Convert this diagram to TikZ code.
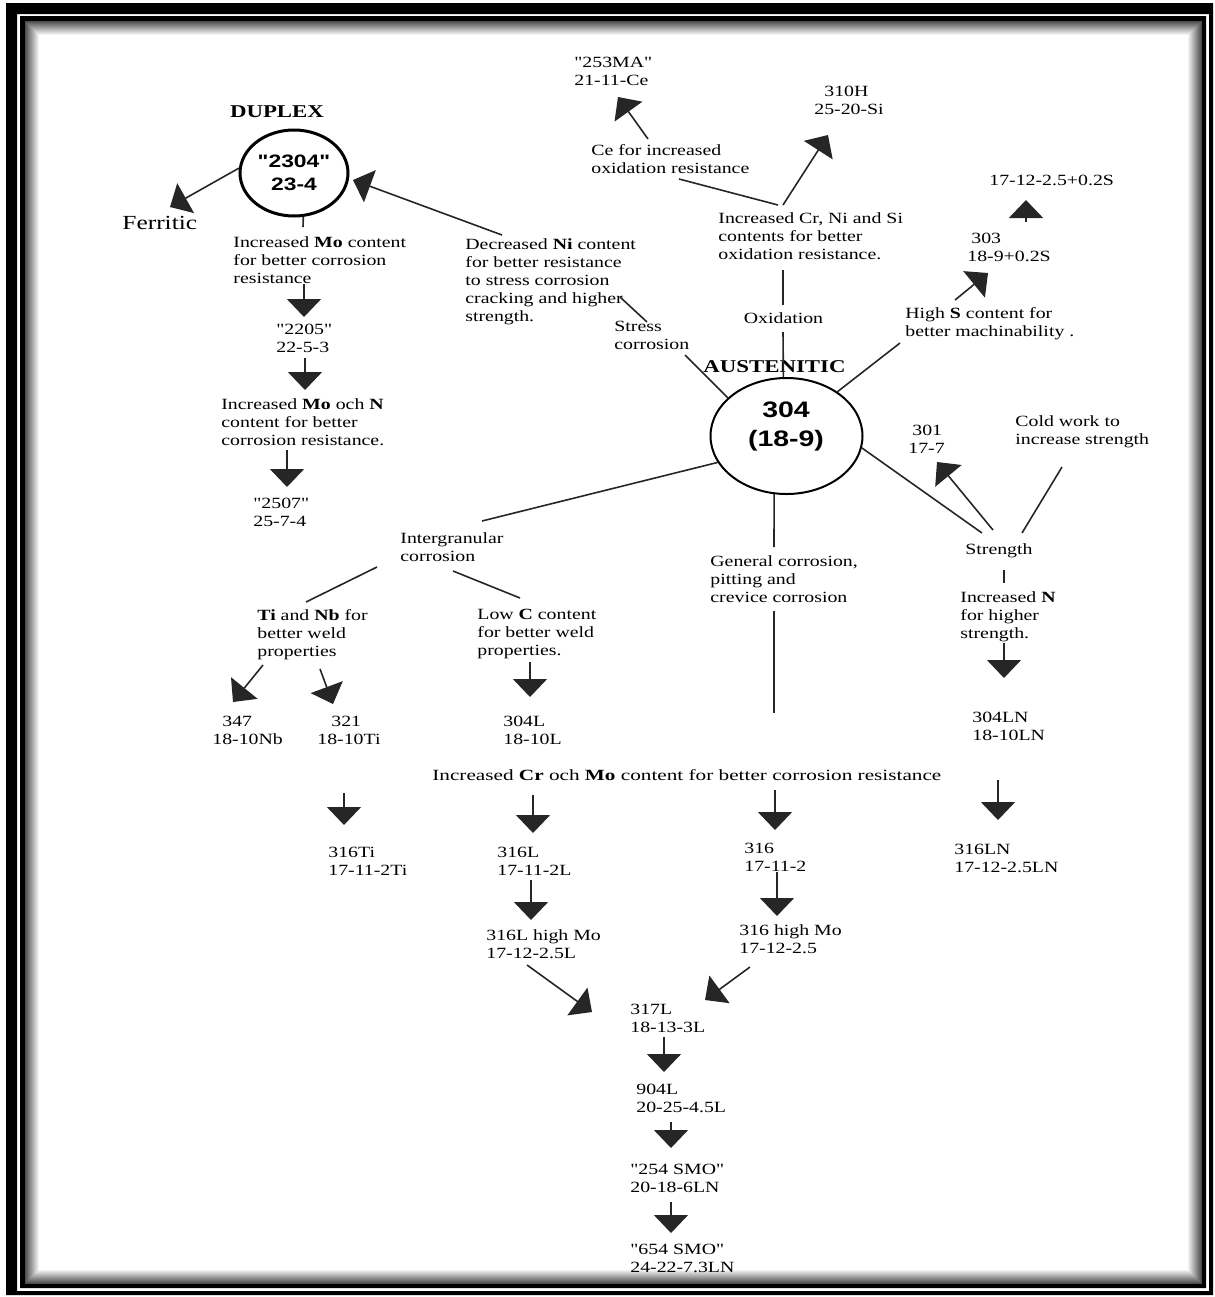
\documentclass[tikz,border=0pt]{standalone}
\usepackage{fontspec}
\setmainfont{Liberation Serif}[FakeStretch=1.27,Ligatures=TeXOff]
\setsansfont{Liberation Sans}[FakeStretch=1.27,Ligatures=TeXOff]
\newfontfamily\widefont{Liberation Serif}[FakeStretch=1.36,Ligatures=TeXOff]
\usetikzlibrary{arrows.meta,shapes.geometric}
\begin{document}
\begin{tikzpicture}[x=0.5pt,y=-0.5pt,
  lbl/.style={anchor=north west,align=left,inner sep=0pt,yshift=-1.5pt,font=\fontsize{7.8}{9}\selectfont},
  sgl/.style={anchor=base,inner sep=0pt,font=\fontsize{7.8}{9}\selectfont},
  arr/.style={draw=black!85,line width=0.8pt,-{Triangle[width=17pt,length=9pt]}},
  ln/.style={draw=black!85,line width=0.8pt},
  hdr/.style={inner sep=0pt,anchor=base,font=\fontsize{9}{10}\selectfont\bfseries}]

\useasboundingbox (0,0) rectangle (1215,1297);
% frame
\fill[black,even odd rule] (6,3) rectangle (1213,1295) (17,14) rectangle (1209,1291);
\fill[black,even odd rule] (20,16) rectangle (1206,1288) (25,21) rectangle (1202,1284);
\foreach \i in {0,...,13}{\pgfmathsetmacro\c{70-5*\i}
  \draw[black!\c,line width=0.6pt] (25.5+\i,21.5+\i) rectangle (1201.5-\i,1283.5-\i);}

% ellipses
\node[draw,ellipse,line width=1.5pt,minimum width=54pt,minimum height=43pt,inner sep=0pt,align=center,
  font=\sffamily\bfseries\fontsize{9}{11.5}\selectfont] (c2304) at (294,173) {"2304"\\23-4};
\node[draw,ellipse,line width=1pt,minimum width=76pt,minimum height=58pt,inner sep=0pt] (c304) at (786.5,436) {};
\node[inner sep=0pt,align=center,font=\sffamily\bfseries\fontsize{11.2}{14.5}\selectfont] (t304) at (786,426) {304\\(18-9)};

% headers
\node[hdr] (dup) at (277,117) {DUPLEX};
\node[hdr] (aust) at (774.5,372) {AUSTENITIC};
\node[inner sep=0pt,anchor=base west,font=\fontsize{10}{12}\selectfont] (ferr) at (122,229) {Ferritic};

% duplex branch
\node[lbl] (dupinc) at (233,233) {Increased \textbf{Mo} content\\for better corrosion\\resistance};
\node[lbl] (n2205) at (276,321) {"2205"\\22-5-3};
\node[lbl] (dupinc2) at (221,395) {Increased \textbf{Mo} och \textbf{N}\\content for better\\corrosion resistance.};
\node[lbl] (n2507) at (253,495) {"2507"\\25-7-4};

% oxidation branch
\node[lbl] (n253) at (574,54) {"253MA"\\21-11-Ce};
\node[lbl] (ce) at (591,141) {Ce for increased\\oxidation resistance};
\node[lbl] (n310) at (814,83) {\hspace*{5pt}310H\\25-20-Si};
\node[lbl] (crni) at (718,209) {Increased Cr, Ni and Si\\contents for better\\oxidation resistance.};
\node[sgl] (oxid) at (783.5,323) {Oxidation};

% stress corrosion
\node[lbl] (decni) at (465,235) {Decreased \textbf{Ni} content\\for better resistance\\to stress corrosion\\cracking and higher\\strength.};
\node[lbl] (stress) at (614,318) {Stress\\corrosion};

% machinability
\node[lbl] (highs) at (905,304) {High \textbf{S} content for\\better machinability .};
\node[lbl] (n303) at (967,230) {\hspace*{2pt}303\\18-9+0.2S};
\node[lbl] (n1712) at (989,172) {17-12-2.5+0.2S};

% strength
\node[lbl] (n301) at (908,422) {\hspace*{2pt}301\\17-7};
\node[lbl] (cold) at (1015,412) {Cold work to\\increase strength};
\node[lbl] (strength) at (965,540) {Strength};
\node[lbl] (incn) at (960,588) {Increased \textbf{N}\\for higher\\strength.};
\node[lbl] (n304ln) at (972,709) {304LN\\18-10LN};
\node[lbl] (n316ln) at (954,841) {316LN\\17-12-2.5LN};

% general corrosion
\node[lbl] (gen) at (710,552) {General corrosion,\\pitting and\\crevice corrosion};

% intergranular
\node[lbl] (inter) at (400,529) {Intergranular\\corrosion};
\node[lbl] (tinb) at (257,606) {\textbf{Ti} and \textbf{Nb} for\\better weld\\properties};
\node[lbl] (lowc) at (477,606) {Low \textbf{C} content\\for better weld\\properties.};
\node[lbl] (n347) at (212,713) {\hspace*{5pt}347\\18-10Nb};
\node[lbl] (n321) at (317,713) {\hspace*{7pt}321\\18-10Ti};
\node[lbl] (n304l) at (503,713) {304L\\18-10L};

% Cr Mo
\node[lbl,font=\widefont\fontsize{7.8}{9}\selectfont] (crmo) at (432,766) {Increased \textbf{Cr} och \textbf{Mo} content for better corrosion resistance};
\node[lbl] (n316ti) at (328,844) {316Ti\\17-11-2Ti};
\node[lbl] (n316l) at (497,844) {316L\\17-11-2L};
\node[lbl] (n316) at (744,840) {316\\17-11-2};
\node[lbl] (n316lh) at (486,926) {316L high Mo\\17-12-2.5L};
\node[lbl] (n316h) at (739,921) {316 high Mo\\17-12-2.5};
\node[lbl] (n317) at (630,1001) {317L\\18-13-3L};
\node[lbl] (n904) at (636,1081) {904L\\20-25-4.5L};
\node[lbl] (n254) at (630,1161) {"254 SMO"\\20-18-6LN};
\node[lbl] (n654) at (630,1241) {"654 SMO"\\24-22-7.3LN};

% coordinates
\coordinate (qFerr) at (170,207);
\coordinate (qMoT) at (303,227);
\coordinate (q2205a) at (304,284); \coordinate (q2205b) at (304,317);
\coordinate (qMoNa) at (305,358); \coordinate (qMoNb) at (305,390);
\coordinate (q2507a) at (287,450); \coordinate (q2507b) at (287,487);
\coordinate (q253a) at (648,139); \coordinate (q253b) at (618,97);
\coordinate (qCeE) at (679,179); \coordinate (qJ) at (778,205);
\coordinate (q310a) at (783,205); \coordinate (q310b) at (828,135);
\coordinate (qOxA) at (783,270); \coordinate (qOxB) at (783,305);
\coordinate (qOxC) at (783,332);
\coordinate (qNiA) at (502,235); \coordinate (qNiB) at (353,180);
\coordinate (qStA) at (620,297); \coordinate (qStB) at (647,322);
\coordinate (qStC) at (685,355);
\coordinate (qHs) at (900,343);
\coordinate (q303a) at (955,300); \coordinate (q303b) at (988,273);
\coordinate (q1712a) at (1026,222); \coordinate (q1712b) at (1026,200);
\coordinate (qStrL) at (982,533);
\coordinate (q301a) at (993,530); \coordinate (q301b) at (937,462);
\coordinate (qColdA) at (1062,467); \coordinate (qColdB) at (1022,533);
\coordinate (qNa) at (1004,570); \coordinate (qNb) at (1004,583);
\coordinate (qLNa) at (1004,643); \coordinate (qLNb) at (1004,678);
\coordinate (q316LNa) at (998,780); \coordinate (q316LNb) at (998,820);
\coordinate (qGenA) at (774,547); \coordinate (qGenB) at (774,611); \coordinate (qGenC) at (774,713);
\coordinate (qInt) at (482,521);
\coordinate (qTiA) at (377,567); \coordinate (qTiB) at (306,602);
\coordinate (qLcA) at (453,571); \coordinate (qLcB) at (520,598);
\coordinate (q347a) at (263,665); \coordinate (q347b) at (233,702);
\coordinate (q321a) at (320,669); \coordinate (q321b) at (333,704);
\coordinate (q304La) at (530,662); \coordinate (q304Lb) at (530,697);
\coordinate (qTia) at (344,793); \coordinate (qTib) at (344,825);
\coordinate (qLa) at (533,795); \coordinate (qLb) at (533,833);
\coordinate (q316a) at (775,790); \coordinate (q316b) at (775,830);
\coordinate (qLhA) at (531,880); \coordinate (qLhB) at (531,920);
\coordinate (qHA) at (777,872); \coordinate (qHB) at (777,916);
\coordinate (q317a) at (527,965); \coordinate (q317b) at (592,1012);
\coordinate (q317c) at (750,967); \coordinate (q317d) at (705,1000);
\coordinate (q904a) at (664,1037); \coordinate (q904b) at (664,1072);
\coordinate (q254a) at (671,1122); \coordinate (q254b) at (671,1148);
\coordinate (q654a) at (671,1202); \coordinate (q654b) at (671,1233);

% connectors
\draw[arr] (c2304.175) -- (qFerr);
\draw[ln] (c2304.282) -- (qMoT);
\draw[arr] (q2205a) -- (q2205b);
\draw[arr] (qMoNa) -- (qMoNb);
\draw[arr] (q2507a) -- (q2507b);
\draw[arr] (q253a) -- (q253b);
\draw[ln] (qCeE) -- (qJ);
\draw[arr] (q310a) -- (q310b);
\draw[ln] (qOxA) -- (qOxB);
\draw[ln] (qOxC) -- (c304.93);
\draw[arr] (qNiA) -- (qNiB);
\draw[ln] (qStA) -- (qStB);
\draw[ln] (qStC) -- (c304.147);
\draw[ln] (c304.41) -- (qHs);
\draw[arr] (q303a) -- (q303b);
\draw[arr] (q1712a) -- (q1712b);
\draw[ln] (c304.-9) -- (qStrL);
\draw[arr] (q301a) -- (q301b);
\draw[ln] (qColdA) -- (qColdB);
\draw[ln] (qNa) -- (qNb);
\draw[arr] (qLNa) -- (qLNb);
\draw[arr] (q316LNa) -- (q316LNb);
\draw[ln] (c304.258) -- (qGenA);
\draw[ln] (qGenB) -- (qGenC);
\draw[ln] (c304.201) -- (qInt);
\draw[ln] (qTiA) -- (qTiB);
\draw[ln] (qLcA) -- (qLcB);
\draw[arr] (q347a) -- (q347b);
\draw[arr] (q321a) -- (q321b);
\draw[arr] (q304La) -- (q304Lb);
\draw[arr] (qTia) -- (qTib);
\draw[arr] (qLa) -- (qLb);
\draw[arr] (q316a) -- (q316b);
\draw[arr] (qLhA) -- (qLhB);
\draw[arr] (qHA) -- (qHB);
\draw[arr] (q317a) -- (q317b);
\draw[arr] (q317c) -- (q317d);
\draw[arr] (q904a) -- (q904b);
\draw[arr] (q254a) -- (q254b);
\draw[arr] (q654a) -- (q654b);
\end{tikzpicture}
\end{document}
